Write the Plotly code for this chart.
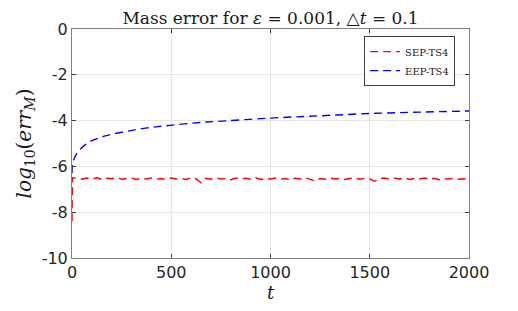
import plotly.graph_objects as go

# EEP-TS4 (blue)
t_eep = [0, 3, 15, 40, 91, 167, 268, 369, 470, 646, 722, 1000, 1250, 1500, 1750, 2000]
v_eep = [-6.3, -5.9, -5.58, -5.26, -4.92, -4.67, -4.48, -4.33, -4.23, -4.08, -4.04,
         -3.89, -3.79, -3.69, -3.63, -3.58]

# SEP-TS4 (red)
t_sep = [0, 2, 25, 50, 75, 100, 125, 150, 175, 200, 225, 250, 275, 300, 325, 350, 375, 400,
         425, 450, 475, 500, 525, 550, 575, 600, 625, 650, 675, 700, 725, 750, 775, 800,
         825, 850, 875, 900, 925, 950, 975, 1000, 1025, 1050, 1075, 1100, 1125, 1150, 1175,
         1200, 1225, 1250, 1275, 1300, 1325, 1350, 1375, 1400, 1425, 1450, 1475, 1500, 1525,
         1550, 1575, 1600, 1625, 1650, 1675, 1700, 1725, 1750, 1775, 1800, 1825, 1850, 1875,
         1900, 1925, 1950, 1975, 2000]
v_sep = [-8.4, -6.50, -6.53, -6.56, -6.51, -6.55, -6.50, -6.57, -6.52, -6.54, -6.49, -6.56,
         -6.53, -6.51, -6.57, -6.52, -6.55, -6.50, -6.56, -6.53, -6.58, -6.51, -6.55, -6.52,
         -6.57, -6.50, -6.54, -6.72, -6.52, -6.56, -6.50, -6.55, -6.53, -6.58, -6.51, -6.56,
         -6.52, -6.55, -6.50, -6.57, -6.53, -6.55, -6.51, -6.56, -6.53, -6.58, -6.52, -6.55,
         -6.50, -6.57, -6.64, -6.53, -6.56, -6.51, -6.55, -6.52, -6.57, -6.53, -6.50, -6.56,
         -6.52, -6.55, -6.65, -6.53, -6.51, -6.56, -6.52, -6.55, -6.50, -6.57, -6.53, -6.55,
         -6.51, -6.56, -6.52, -6.58, -6.53, -6.55, -6.51, -6.56, -6.54, -6.58]

x_ticks = [0, 500, 1000, 1500, 2000]
x_ticktext = ["0", "500", "1000", "1500", "2000"]
y_ticks = [-10, -8, -6, -4, -2, 0]
y_ticktext = ["-10", "-8", "-6", "-4", "-2", "0"]

W, H = 510, 303
L, R, T, B = 64, 49, 21, 53

fig = go.Figure()
fig.add_trace(go.Scatter(x=t_sep, y=v_sep, mode="lines", name="SEP-TS4",
                         line=dict(color="#ff0000", width=1.4, dash="8px,5px")))
fig.add_trace(go.Scatter(x=t_eep, y=v_eep, mode="lines", name="EEP-TS4",
                         line=dict(color="#0000ff", width=1.4, dash="8px,5px", shape="spline")))

axis_common = dict(
    showgrid=True, gridcolor="#e6e6e6", gridwidth=1,
    showline=True, linecolor="#808080", linewidth=1, mirror="ticks",
    ticks="inside", ticklen=4, tickcolor="#404040", zeroline=False,
    tickfont=dict(family="DejaVu Sans", size=16, color="#262626"),
)

fig.update_layout(
    width=W, height=H,
    margin=dict(l=L, r=R, t=T, b=B),
    paper_bgcolor="white", plot_bgcolor="white",
    title=dict(text="Mass error for <i>ε</i> = 0.001, △<i>t</i> = 0.1",
               x=(L + (W - R)) / 2 / W, xanchor="center", y=1 - 10 / H, yanchor="middle",
               font=dict(family="DejaVu Serif", size=17, color="#1a1a1a")),
    showlegend=True,
    legend=dict(x=0.965, xanchor="right", y=0.969, yanchor="top",
                bordercolor="#404040", borderwidth=1, bgcolor="white",
                font=dict(family="DejaVu Serif", size=10, color="#1a1a1a"),
                tracegroupgap=0),
)
fig.update_xaxes(range=[0, 2000], tickvals=x_ticks, ticktext=x_ticktext,
                 title=dict(text="<i>t</i>", font=dict(family="DejaVu Serif", size=18, color="#1a1a1a"),
                            standoff=2),
                 **axis_common)
fig.update_yaxes(range=[-10, 0], tickvals=y_ticks, ticktext=y_ticktext,
                 title=dict(text="<i>log</i><sub>10</sub>(<i>err</i><sub><i>M</i></sub>)",
                            font=dict(family="DejaVu Serif", size=20, color="#1a1a1a"),
                            standoff=4),
                 **axis_common)

fig.write_html("out.html")
